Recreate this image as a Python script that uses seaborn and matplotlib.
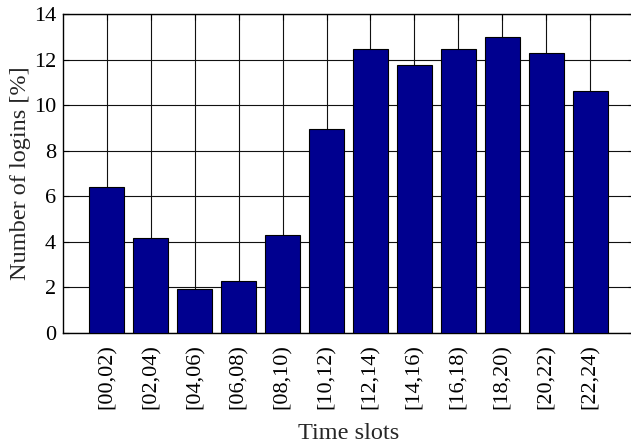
import matplotlib
matplotlib.use("Agg")
import matplotlib.pyplot as plt
import seaborn as sns
import pandas as pd

# Share of logins per two-hour time slot
slots = ["[00,02)", "[02,04)", "[04,06)", "[06,08)", "[08,10)", "[10,12)",
         "[12,14)", "[14,16)", "[16,18)", "[18,20)", "[20,22)", "[22,24)"]
logins_pct = [6.41, 4.15, 1.92, 2.28, 4.28, 8.95,
              12.48, 11.76, 12.45, 12.98, 12.28, 10.63]
y_ticks = [0, 2, 4, 6, 8, 10, 12, 14]

sns.set_theme(style="ticks")
plt.rcParams["font.family"] = ["Liberation Serif", "DejaVu Serif"]

df = pd.DataFrame({"slot": slots, "pct": logins_pct})

fig = plt.figure(figsize=(6.31, 4.46), dpi=100)
ax = fig.add_axes([0.0998, 0.254, 0.905, 0.7146])

sns.barplot(data=df, x="slot", y="pct", order=slots, color="#00008F",
            saturation=1, width=0.8, edgecolor="black", linewidth=0.8,
            ax=ax, zorder=3)

ax.set_xlim(-1, 12)
ax.set_ylim(0, 14)
ax.set_yticks(y_ticks)
ax.set_yticklabels([str(v) for v in y_ticks], fontsize=16)
ax.set_xticks(range(len(slots)))
ax.set_xticklabels(slots, rotation=90, fontsize=16)

ax.grid(True, color="#111111", linewidth=0.8, linestyle="-", zorder=0)
ax.set_axisbelow(True)

for side in ["top", "bottom", "left", "right"]:
    ax.spines[side].set_visible(True)
    ax.spines[side].set_color("black")
    ax.spines[side].set_linewidth(1.0)

ax.tick_params(axis="both", direction="in", length=4, width=0.8,
               top=True, right=True, colors="black")
ax.tick_params(axis="y", pad=5)
ax.tick_params(axis="x", pad=8)

ax.set_xlabel("Time slots", fontsize=17.5, labelpad=10)
ax.set_ylabel("Number of logins [%]", fontsize=17.5, labelpad=2)

fig.savefig("out.png", dpi=100, facecolor="white")
